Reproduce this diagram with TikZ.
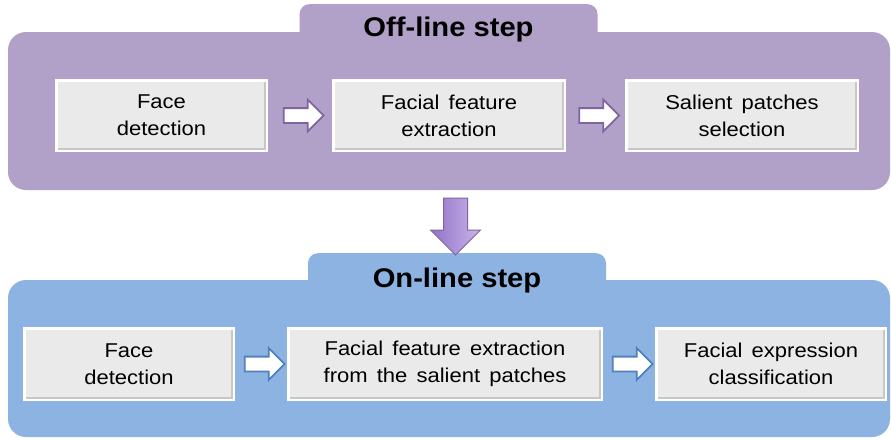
\documentclass[tikz,border=0pt]{standalone}
\usepackage{fontspec}
\setmainfont{Liberation Sans}
\newfontfamily\boxfont[FakeStretch=1.1,WordSpace=1.5]{Liberation Sans}
\newfontfamily\titlefont[FakeStretch=1.08]{Liberation Sans}
\usetikzlibrary{positioning,calc,shapes.arrows,shadows}
\definecolor{offpurple}{HTML}{B1A0C7}
\definecolor{onblue}{HTML}{8DB3E2}
\definecolor{purpleline}{HTML}{8064A2}
\definecolor{blueline}{HTML}{4F81BD}
\definecolor{boxgray}{HTML}{EAEAEA}
\definecolor{arrowdark}{HTML}{9272C8}
\definecolor{arrowlight}{HTML}{C9B5EA}

\begin{document}
\begin{tikzpicture}[x=1pt,y=-1pt,
    panel/.style={fill=#1,rounded corners=18pt,inner sep=0pt,minimum width=882pt},
    tab/.style={fill=#1,rounded corners=10pt,minimum width=298pt,minimum height=44pt,anchor=north,inner sep=0pt},
    title/.style={anchor=base,inner sep=0pt,font=\titlefont\bfseries\fontsize{27}{30}\selectfont},
    stage/.style={fill=boxgray,draw=white,line width=2.5pt,align=center,inner sep=0pt,
        font=\boxfont\fontsize{20}{27}\selectfont,
        drop shadow={shadow xshift=1.5pt,shadow yshift=-1.5pt,opacity=.3},
        path picture={\draw[black!22,line width=6pt] (path picture bounding box.north east)
            -- (path picture bounding box.south east) -- (path picture bounding box.south west);}},
    flow/.style={single arrow,draw=#1,fill=white,line width=1.8pt,minimum height=40pt,
        inner sep=6.5pt,single arrow head extend=8.5pt}]
\fill[white] (0,0) rectangle (891,439);
\useasboundingbox (0,0) rectangle (891,439);

\node[panel=offpurple,minimum height=158pt] (offpanel) at (449,111) {};
\node[tab=offpurple] (offtab) at (448.5,4) {};
\node[title] (offtitle) at ([yshift=-32pt]offtab.north) {Off-line step};
\node[stage,minimum width=210.5pt,minimum height=70.5pt] (face1) at (161.5,115.5) {Face\\detection};
\node[stage,minimum width=231.5pt,minimum height=70.5pt,right=64pt of face1] (feat1) {Facial feature\\extraction};
\node[stage,minimum width=231.5pt,minimum height=70.5pt,right=59pt of feat1] (sel1) {Salient patches\\selection};
\node[flow=purpleline] (a1) at ($(face1.east)!.5!(feat1.west)$) {};
\node[flow=purpleline] (a2) at ($(feat1.east)!.5!(sel1.west)$) {};

\node[panel=onblue,minimum height=157pt] (onpanel) at (449,358.5) {};
\node[tab=onblue] (ontab) at (457,253) {};
\node[title] (ontitle) at ([yshift=-34pt]ontab.north) {On-line step};
\node[stage,minimum width=209.5pt,minimum height=71.5pt] (face2) at (129,364) {Face\\detection};
\node[stage,minimum width=313.5pt,minimum height=71.5pt,right=52pt of face2] (feat2) {Facial feature extraction\\from the salient patches};
\node[stage,minimum width=229.5pt,minimum height=71.5pt,right=52pt of feat2] (cls2) {Facial expression\\classification};
\node[flow=blueline] (b1) at ($(face2.east)!.5!(feat2.west)$) {};
\node[flow=blueline] (b2) at ($(feat2.east)!.5!(cls2.west)$) {};

\node[flow=purpleline,shape border rotate=270,minimum height=57pt,inner sep=11.5pt,
    single arrow head extend=13pt,line width=1pt,left color=arrowdark,right color=arrowlight] (down) at (455.5,220.5) {};
\end{tikzpicture}
\end{document}
